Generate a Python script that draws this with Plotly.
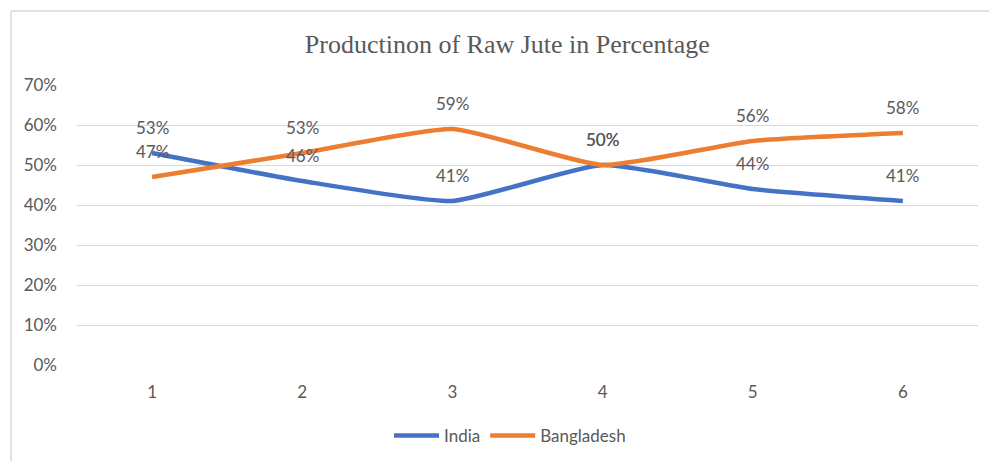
import plotly.graph_objects as go

# Share of raw jute production by year index
periods = [1, 2, 3, 4, 5, 6]
india = [0.53, 0.46, 0.41, 0.50, 0.44, 0.41]
bangladesh = [0.47, 0.53, 0.59, 0.50, 0.56, 0.58]
y_ticks = [0, 0.1, 0.2, 0.3, 0.4, 0.5, 0.6, 0.7]

BLUE = "#4472C4"
ORANGE = "#ED7D31"
GRID = "#D9D9D9"
TEXT = "#595959"
FONT = "Lato, Carlito, sans-serif"

fig = go.Figure()
for name, vals, color in [("India", india, BLUE), ("Bangladesh", bangladesh, ORANGE)]:
    fig.add_trace(go.Scatter(
        x=periods, y=vals, name=name, mode="lines",
        line=dict(color=color, width=4.5, shape="spline", smoothing=0.5),
    ))

# Value labels above each point
annotations = []
for vals in (india, bangladesh):
    for x, v in zip(periods, vals):
        annotations.append(dict(
            x=x, y=v, xref="x", yref="y", text=f"{round(v * 100)}%",
            showarrow=False, yshift=26, yanchor="middle",
            font=dict(family=FONT, size=17, color=TEXT),
        ))

fig.update_layout(
    width=989, height=461,
    margin=dict(l=77, r=11, t=85, b=96, autoexpand=False),
    paper_bgcolor="white", plot_bgcolor="white",
    title=dict(
        text="Productinon of Raw Jute in Percentage",
        x=0.513, xanchor="center", y=1 - 44 / 461, yanchor="middle",
        font=dict(family="Liberation Serif, Times New Roman, serif", size=26, color=TEXT),
    ),
    xaxis=dict(
        range=[0.5, 6.5], tickvals=periods, ticktext=[str(p) for p in periods],
        showgrid=False, zeroline=False, showline=False, ticks="",
        tickfont=dict(family=FONT, size=17, color=TEXT),
        ticklabelstandoff=15,
    ),
    yaxis=dict(
        range=[0, 0.7], tickvals=y_ticks, tickformat=".0%",
        showgrid=True, gridcolor=GRID, gridwidth=1.3,
        zeroline=False, showline=False, ticks="",
        tickfont=dict(family=FONT, size=17, color=TEXT),
        ticklabelstandoff=19,
    ),
    legend=dict(
        orientation="h", x=0.4806, xanchor="center",
        yref="container", y=1 - 436 / 461, yanchor="middle",
        font=dict(family=FONT, size=17, color=TEXT),
        itemwidth=45,
    ),
    annotations=annotations,
    shapes=[
        dict(type="line", xref="paper", yref="paper",
             x0=-66 / 901, x1=1.02, y0=1 + 74 / 280, y1=1 + 74 / 280,
             line=dict(color=GRID, width=1.5)),
        dict(type="line", xref="paper", yref="paper",
             x0=-66 / 901, x1=-66 / 901, y0=1 + 74 / 280, y1=-0.4,
             line=dict(color=GRID, width=1.5)),
    ],
)

fig.write_html("out.html")
